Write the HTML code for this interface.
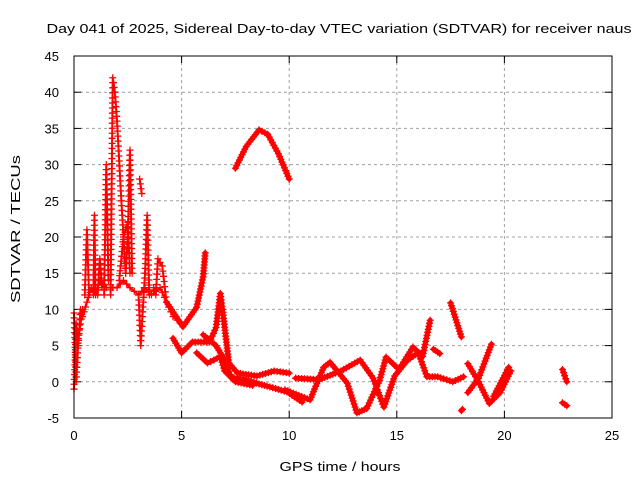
<!DOCTYPE html>
<html><head><meta charset="utf-8"><style>
body{margin:0;background:#fff;}
svg text{font-family:"Liberation Sans",sans-serif;font-size:13px;fill:#000;}
</style></head><body>
<svg id="chart" width="640" height="480" xmlns="http://www.w3.org/2000/svg">
<rect width="640" height="480" fill="#fff"/>
<text x="339" y="33" text-anchor="middle" font-size="15" textLength="585" lengthAdjust="spacingAndGlyphs">Day 041 of 2025, Sidereal Day-to-day VTEC variation (SDTVAR) for receiver naus</text>
<g id="grid"></g><g id="ticks"></g><g id="series"></g>
<rect x="74" y="56" width="538" height="362" fill="none" stroke="#000" stroke-width="1"/>
<text x="340" y="471" text-anchor="middle" font-size="15" textLength="121" lengthAdjust="spacingAndGlyphs">GPS time / hours</text>
<text transform="translate(20,229) rotate(-90)" text-anchor="middle" font-size="15" textLength="148" lengthAdjust="spacingAndGlyphs">SDTVAR / TECUs</text>
</svg>
<script>
const xTicks=[0,5,10,15,20,25];
const yTicks=[-5,0,5,10,15,20,25,30,35,40,45];
// early-hours spiky tracks [hour, TECU]
const trackEarly1=[[0,-1],[0.05,3],[0.1,8],[0.2,5],[0.3,10],[0.4,9],[0.6,11],[0.8,13],[1.0,12],[1.2,14],[1.5,13],[1.8,13],[2.0,13],[2.3,14],[2.6,13],[3.0,12],[3.3,13],[3.6,12],[4.0,13],[4.3,11],[4.6,9],[5.0,8]];
const spikeA=[[0.5,12],[0.6,21],[0.7,12]];
const spikeB=[[0.9,12],[0.95,23],[1.0,12]];
const spikeC=[[1.4,12],[1.5,30],[1.6,14]];
const spikeD=[[1.7,12],[1.8,42],[1.9,40],[2.0,36],[2.2,25],[2.4,15]];
const spikeE=[[2.4,15],[2.5,20],[2.6,32],[2.7,15]];
const spikeF=[[3.0,12],[3.1,5],[3.3,15],[3.4,23],[3.5,12]];
const spikeG=[[3.7,13],[3.8,12],[3.9,17],[4.1,16],[4.3,11]];
const spikeH=[[3.05,28],[3.15,26]];
const spikeI=[[0,9.5],[0.1,0],[0.2,6],[0.4,10]];
const spikeJ=[[1.1,12],[1.2,17],[1.3,13]];
const spikeK=[[2.1,14],[2.3,20],[2.5,22],[2.6,15]];
const trackArc=[[7.5,29.5],[8.0,32.5],[8.6,34.8],[9.0,34.2],[9.5,31.5],[10.0,28]];
const trackMid1=[[4.3,11],[5.06,7.6],[5.7,10.3],[6.0,14.5],[6.1,17.8]];
const trackMid2=[[4.6,6],[5.0,4],[5.5,5.5],[6.3,5.5],[6.6,7.5],[6.8,12.2],[6.9,10],[7.2,2.6],[7.6,1.2],[8.5,0.8],[9.3,1.5],[10,1.2]];
const trackMid3=[[6.0,6.5],[6.6,5],[7.0,3],[7.3,0.6],[8.0,0.3],[8.6,-0.3],[9.1,-0.7],[9.9,-1.4],[10.6,-2.8]];
const trackMid4=[[5.7,4],[6.2,2.6],[6.5,3],[6.8,3.5],[7.0,1.5],[7.5,0],[8.3,-0.5]];
const trackLate1=[[9.8,-1.1],[10.97,-2.5],[11.6,2.0],[11.9,2.7],[12.7,-0.2],[13.15,-4.3],[13.6,-3.7],[14.2,0.2],[14.5,3.4],[15.1,1.7],[15.75,4.8],[16.2,3.5],[16.55,8.5]];
const trackLate2=[[10.3,0.5],[11.4,0.3],[12.4,1.5],[13.3,3],[13.9,0.5],[14.4,-3.5],[14.9,0.8],[15.5,3],[16.0,4],[16.4,0.7],[16.9,0.7],[17.6,0],[18.1,0.7]];
const trackLate3=[[17.5,10.9],[18.0,6.2]];
const trackLate4=[[16.7,4.5],[17.0,3.9]];
const trackLate5=[[18.3,2.5],[18.8,0],[19.3,-3],[19.8,-1.5],[20.3,1.5]];
const trackLate6=[[18.3,-1.5],[18.8,0.5],[19.4,5.2]];
const trackLate7=[[19.5,-2],[20.2,2]];
const trackLate8=[[22.7,1.7],[22.9,0]];
const trackLate9=[[22.7,-2.9],[22.9,-3.3]];
const trackLate10=[[18.0,-4],[18.05,-3.8]];
const thinTracks=[trackEarly1,spikeA,spikeB,spikeC,spikeD,spikeE,spikeF,spikeG,spikeH,spikeI,spikeJ,spikeK];
const thickTracks=[trackArc,trackMid1,trackMid2,trackMid3,trackMid4,trackLate1,trackLate2,trackLate3,trackLate4,trackLate5,trackLate6,trackLate7,trackLate8,trackLate9,trackLate10];

const NS="http://www.w3.org/2000/svg";
const X0=74,X1=612,Y0=418,Y1=56;
function xs(t){return X0+(t-0)/(25-0)*(X1-X0);}
function ys(v){return Y0-(v+5)/(45+5)*(Y0-Y1);}
function mk(tag,attrs,parent){const e=document.createElementNS(NS,tag);for(const k in attrs)e.setAttribute(k,attrs[k]);parent.appendChild(e);return e;}
const grid=document.getElementById('grid'),ticks=document.getElementById('ticks'),series=document.getElementById('series');
xTicks.forEach(t=>{
  const x=xs(t);
  if(t>0&&t<25){const g=mk('line',{x1:x,x2:x,y1:Y1,y2:Y0,stroke:'#a0a0a0','stroke-dasharray':'3,3'},grid);
  
  }
  mk('line',{x1:x,x2:x,y1:Y0,y2:Y0-7,stroke:'#000'},ticks);
  mk('line',{x1:x,x2:x,y1:Y1,y2:Y1+7,stroke:'#000'},ticks);
  const l=mk('text',{x:x,y:Y0+22,'text-anchor':'middle'},ticks);l.textContent=t;
  
  
});
yTicks.forEach(v=>{
  const y=ys(v);
  if(v>-5&&v<45){const g=mk('line',{x1:X0,x2:X1,y1:y,y2:y,stroke:'#a0a0a0','stroke-dasharray':'3,3'},grid);
  
  }
  mk('line',{x1:X0,x2:X0+7,y1:y,y2:y,stroke:'#000'},ticks);
  mk('line',{x1:X1,x2:X1-7,y1:y,y2:y,stroke:'#000'},ticks);
  const l=mk('text',{x:X0-15,y:y+5,'text-anchor':'end'},ticks);l.textContent=v;
  
  
});
function drawTrack(tr,w,step){
  const pts=tr.map(p=>xs(p[0])+','+ys(p[1])).join(' ');
  const pl=mk('polyline',{points:pts,fill:'none',stroke:'#ff0000','stroke-width':w,'stroke-linejoin':'round','stroke-linecap':'round'},series);
  
  
  // "+" markers along each segment (render texture)
  let d='';
  for(let i=0;i<tr.length-1;i++){
    const ax=xs(tr[i][0]),ay=ys(tr[i][1]),bx=xs(tr[i+1][0]),by=ys(tr[i+1][1]);
    const len=Math.hypot(bx-ax,by-ay),n=Math.max(1,Math.round(len/step));
    for(let k=0;k<=n;k++){const x=ax+(bx-ax)*k/n,y=ay+(by-ay)*k/n;d+=`M${x-3.5},${y}H${x+3.5}M${x},${y-3.5}V${y+3.5}`;}
  }
  const m=mk('path',{d:d,stroke:'#ff0000','stroke-width':1.3,fill:'none'},series);
  
  
}
thinTracks.forEach(t=>drawTrack(t,2,5));
thickTracks.forEach(t=>drawTrack(t,5,3));
</script>
</body></html>
